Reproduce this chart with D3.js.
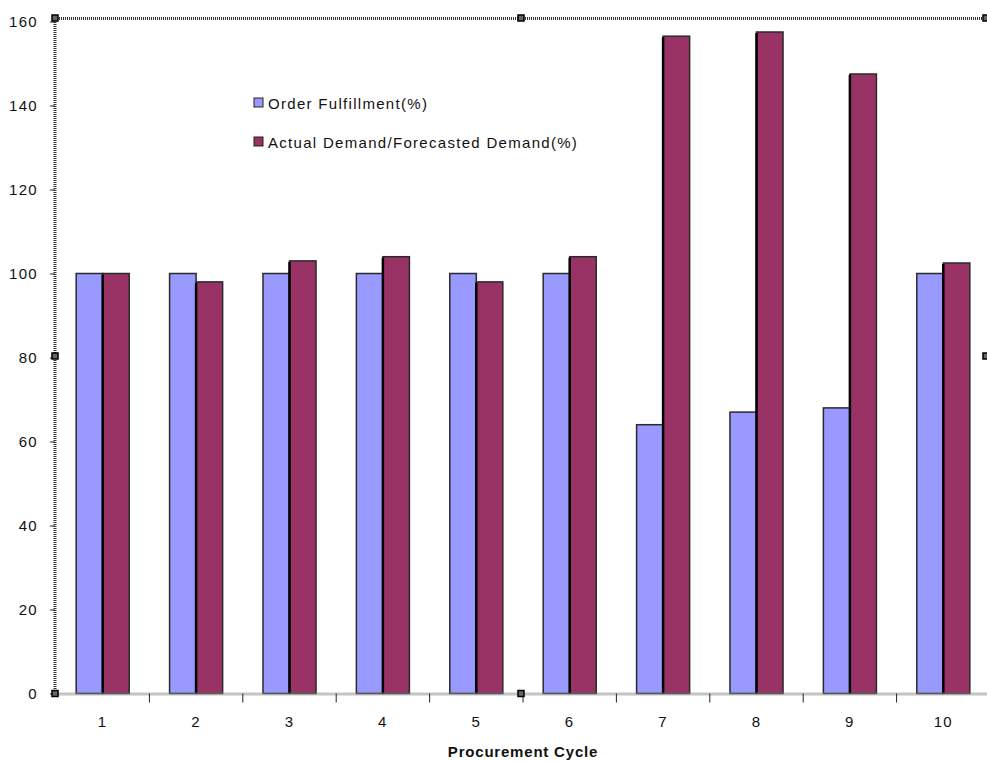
<!DOCTYPE html>
<html>
<head>
<meta charset="utf-8">
<script src="https://cdn.jsdelivr.net/npm/d3@7"></script>
<style>
  body { margin: 0; background: #fff; }
  svg { display: block; font-family: "Liberation Sans", Arial, sans-serif; }
  text { letter-spacing: 1.3px; }
</style>
</head>
<body>
<svg id="chart" width="987" height="762"></svg>
<script>
const cycles = ["1", "2", "3", "4", "5", "6", "7", "8", "9", "10"];
const orderFulfillment = [100, 100, 100, 100, 100, 100, 64, 67, 68, 100];
const demandRatio = [100, 98, 103, 104, 98, 104, 156.5, 157.5, 147.5, 102.5];
const seriesNames = ["Order Fulfillment(%)", "Actual Demand/Forecasted Demand(%)"];
const seriesColors = ["#9999ff", "#993366"];
const yTicks = [0, 20, 40, 60, 80, 100, 120, 140, 160];

const svg = d3.select("#chart");
const plotLeft = 56, plotRight = 990, plotTop = 21.5, plotBottom = 693.5;
const FONT = 15;

const x = d3.scaleBand().domain(cycles).range([plotLeft, plotRight]).paddingInner(0).paddingOuter(0);
const y = d3.scaleLinear().domain([0, 160]).range([plotBottom, plotTop]);

const barW = x.bandwidth() * 0.284;

// bars
const data = cycles.map((c, i) => ({ c, vals: [orderFulfillment[i], demandRatio[i]] }));
const groups = svg.append("g").selectAll("g").data(data).join("g")
    .attr("transform", d => `translate(${x(d.c) + x.bandwidth() / 2 - barW}, 0)`);

groups.selectAll("rect").data(d => d.vals).join("rect")
    .attr("x", (d, i) => i * barW)
    .attr("y", d => y(d))
    .attr("width", barW)
    .attr("height", d => plotBottom - y(d))
    .attr("fill", (d, i) => seriesColors[i])
    .attr("stroke", "#2a2a2a")
    .attr("stroke-width", 1.5);

// dark seam between the two bars
groups.append("line")
    .attr("x1", barW).attr("x2", barW)
    .attr("y1", d => y(d.vals[1]) + 1).attr("y2", plotBottom)
    .attr("stroke", "#000").attr("stroke-width", 2.5);

// plot border (selection style dotted)
svg.append("line").attr("x1", plotLeft - 1).attr("x2", 987).attr("y1", 18.5).attr("y2", 18.5)
    .attr("stroke", "#333").attr("stroke-width", 3).attr("stroke-dasharray", "1,1");
svg.append("line").attr("x1", plotLeft - 1).attr("x2", plotLeft - 1).attr("y1", 18).attr("y2", plotBottom)
    .attr("stroke", "#333").attr("stroke-width", 3).attr("stroke-dasharray", "1,1");

// x axis
const xAxis = svg.append("g").attr("transform", `translate(0,${plotBottom})`)
    .call(d3.axisBottom(x).tickSize(0).tickPadding(23));
xAxis.select(".domain").attr("stroke", "#888").attr("stroke-width", 3).attr("stroke-dasharray", "1,1");
xAxis.selectAll("text").attr("font-size", FONT).attr("fill", "#111")
    .attr("font-family", "'Liberation Sans', Arial, sans-serif");
xAxis.selectAll(".sep").data(cycles.slice(1)).join("line")
    .attr("class", "sep")
    .attr("x1", d => x(d)).attr("x2", d => x(d))
    .attr("y1", 0).attr("y2", 9)
    .attr("stroke", "#222").attr("stroke-width", 1);

// y axis
const yAxis = svg.append("g").attr("transform", `translate(${plotLeft - 1},0)`)
    .call(d3.axisLeft(y).tickValues(yTicks).tickSize(5).tickPadding(12));
yAxis.select(".domain").remove();
yAxis.selectAll("line").attr("stroke", "#222");
yAxis.selectAll("text").attr("font-size", FONT).attr("fill", "#111")
    .attr("font-family", "'Liberation Sans', Arial, sans-serif");

// axis title
svg.append("text")
    .attr("x", 523).attr("y", 757)
    .attr("text-anchor", "middle")
    .attr("font-size", FONT).attr("font-weight", "bold").attr("fill", "#111")
    .style("letter-spacing", "0.8px")
    .text("Procurement Cycle");

// legend
const legend = svg.append("g").attr("transform", "translate(254, 103)");
seriesNames.forEach((name, i) => {
    const row = legend.append("g").attr("transform", `translate(0, ${i * 39})`);
    row.append("rect").attr("x", 0).attr("y", -5).attr("width", 9).attr("height", 9)
        .attr("fill", seriesColors[i]).attr("stroke", "#222").attr("stroke-width", 1);
    row.append("text").attr("x", 14).attr("y", 5.5)
        .attr("font-size", FONT).attr("fill", "#111").text(name);
});

// selection handles
const handles = [[plotLeft - 1, 18], [521, 18], [986, 18], [plotLeft - 1, 356], [986, 356], [plotLeft - 1, plotBottom], [521, plotBottom]];
svg.append("g").selectAll("rect").data(handles).join("rect")
    .attr("x", d => d[0] - 3).attr("y", d => d[1] - 3)
    .attr("width", 6).attr("height", 6)
    .attr("fill", "#666").attr("stroke", "#000").attr("stroke-width", 1.5);
</script>
</body>
</html>
